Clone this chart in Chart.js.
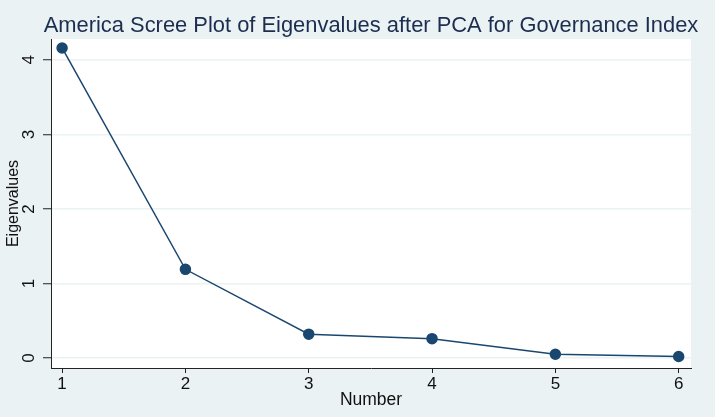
<!DOCTYPE html>
<html>
<head>
<meta charset="utf-8">
<script src="https://cdn.jsdelivr.net/npm/chart.js@4"></script>
<style>
  html, body { margin: 0; padding: 0; background: #EAF2F3; }
  #wrap { width: 715px; height: 417px; position: relative; }
</style>
</head>
<body>
<div id="wrap"><canvas id="c" width="715" height="417"></canvas></div>
<script>
const titleText = 'America Scree Plot of Eigenvalues after PCA for Governance Index';
const xTitle = 'Number';
const yTitle = 'Eigenvalues';
const componentNumbers = [1, 2, 3, 4, 5, 6];
const eigenvalues = [4.16, 1.19, 0.32, 0.26, 0.05, 0.02];
const yTickValues = [0, 1, 2, 3, 4];

const FONT = "'Liberation Sans', Arial, sans-serif";

const plotBg = {
  id: 'plotBg',
  beforeDraw(chart) {
    const { ctx, chartArea: a } = chart;
    ctx.save();
    ctx.fillStyle = '#FFFFFF';
    ctx.fillRect(a.left, a.top, a.right - a.left, a.bottom - a.top);
    ctx.restore();
  }
};

const titleDraw = {
  id: 'titleDraw',
  afterDraw(chart) {
    const { ctx, chartArea: a } = chart;
    ctx.save();
    ctx.font = '21.9px ' + FONT;
    ctx.fillStyle = '#1C2D4F';
    ctx.textAlign = 'center';
    ctx.textBaseline = 'alphabetic';
    ctx.fillText(titleText, (a.left + a.right) / 2, 32);
    ctx.restore();
  }
};

new Chart(document.getElementById('c'), {
  type: 'scatter',
  data: {
    datasets: [{
      data: componentNumbers.map((n, i) => ({ x: n, y: eigenvalues[i] })),
      showLine: true,
      borderColor: '#1A476F',
      backgroundColor: '#1A476F',
      pointBackgroundColor: '#1A476F',
      pointBorderColor: '#1A476F',
      pointRadius: 5,
      borderWidth: 1.5,
      tension: 0
    }]
  },
  options: {
    responsive: false,
    animation: false,
    devicePixelRatio: 1,
    layout: { padding: { top: 39, right: 24, left: 0, bottom: 0 } },
    plugins: {
      legend: { display: false },
      tooltip: { enabled: false },
      title: { display: false }
    },
    scales: {
      x: {
        type: 'linear',
        min: 0.91,
        max: 6.1,
        afterBuildTicks(scale) { scale.ticks = componentNumbers.map(v => ({ value: v })); },
        afterFit(scale) { scale.height = 49; },
        grid: { drawOnChartArea: false, drawTicks: true, tickLength: 5, tickColor: '#222', tickWidth: 1 },
        border: { display: true, color: '#222', width: 1 },
        ticks: {
          color: '#111',
          font: { family: FONT, size: 17 },
          padding: 1,
          maxRotation: 0,
          minRotation: 0,
          callback: v => String(v)
        },
        title: {
          display: true,
          text: xTitle,
          color: '#111',
          font: { family: FONT, size: 17.5 },
          padding: { top: 0, bottom: 6 }
        }
      },
      y: {
        type: 'linear',
        min: -0.134,
        max: 4.28,
        afterBuildTicks(scale) { scale.ticks = yTickValues.map(v => ({ value: v })); },
        afterFit(scale) { scale.width = 51; },
        grid: { drawOnChartArea: true, color: '#EAF2F3', lineWidth: 1.5, drawTicks: true, tickLength: 8, tickColor: '#222', tickWidth: 1 },
        border: { display: true, color: '#222', width: 1 },
        ticks: {
          color: '#111',
          font: { family: FONT, size: 17 },
          padding: 9,
          minRotation: 90,
          maxRotation: 90,
          crossAlign: 'center',
          callback: v => String(v)
        },
        title: {
          display: true,
          text: yTitle,
          color: '#111',
          font: { family: FONT, size: 16 },
          padding: { top: 4, bottom: 0 }
        }
      }
    }
  },
  plugins: [plotBg, titleDraw]
});
</script>
</body>
</html>
